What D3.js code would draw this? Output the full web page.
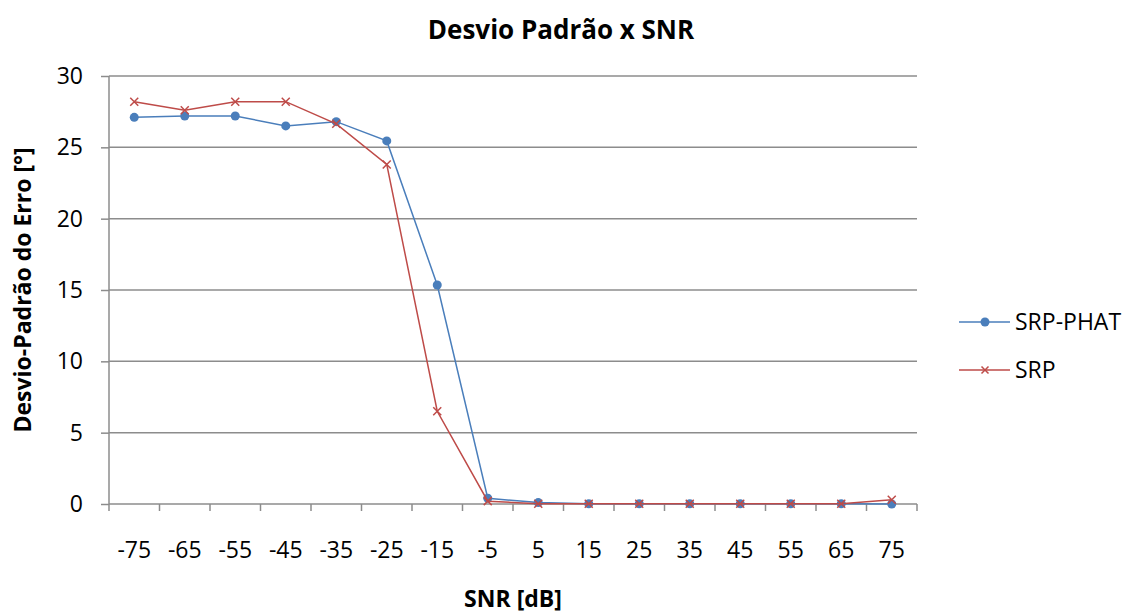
<!DOCTYPE html>
<html><head><meta charset="utf-8">
<script src="https://cdn.jsdelivr.net/npm/d3@7"></script>
<style>body{margin:0;background:#fff}</style>
</head><body>
<svg id="c" width="1129" height="614"></svg>
<script>
const categories = ["-75","-65","-55","-45","-35","-25","-15","-5","5","15","25","35","45","55","65","75"];
const srpPhat = [27.1,27.2,27.2,26.5,26.8,25.45,15.35,0.4,0.1,0.02,0.02,0.02,0.02,0.02,0.02,0.0];
const srp = [28.2,27.6,28.2,28.2,26.65,23.8,6.5,0.2,0.02,0.02,0.02,0.02,0.02,0.02,0.02,0.3];
const yTicks = [0,5,10,15,20,25,30];
const seriesNames = ["SRP-PHAT","SRP"];

const FONT = "'Open Sans', sans-serif";
const FS = 23;
const svg = d3.select("#c");
const L=109, R=917, T=76, B=504;
const x = d3.scaleBand().domain(categories).range([L,R]);
const y = d3.scaleLinear().domain([0,30]).range([B,T]);
const grid="#8c8c8c";

// gridlines
svg.append("g").selectAll("line").data(yTicks.filter(d=>d>0)).join("line")
  .attr("x1",L).attr("x2",R).attr("y1",d=>y(d)).attr("y2",d=>y(d))
  .attr("stroke",grid).attr("stroke-width",1.5);

// y axis
const ya = svg.append("g").attr("transform",`translate(${L},0)`)
  .call(d3.axisLeft(y).tickValues(yTicks).tickSize(8).tickPadding(18));
ya.select(".domain").attr("stroke",grid).attr("stroke-width",1.5).attr("d",`M-0,${T}V${B}`);
ya.selectAll(".tick line").attr("stroke",grid).attr("stroke-width",1.5);
ya.selectAll("text").attr("font-family",FONT).attr("font-size",FS).attr("fill","#000");

// x axis
const xa = svg.append("g").attr("transform",`translate(0,${B})`)
  .call(d3.axisBottom(x).tickSize(0).tickPadding(38));
xa.select(".domain").attr("stroke",grid).attr("stroke-width",1.5).attr("d",`M${L},0H${R}`);
xa.selectAll("text").attr("font-family",FONT).attr("font-size",FS).attr("fill","#000");
// tick marks at band boundaries
const bounds = categories.map(c=>x(c)).concat([R]);
svg.append("g").selectAll("line").data(bounds).join("line")
  .attr("x1",d=>d).attr("x2",d=>d).attr("y1",B).attr("y2",B+7)
  .attr("stroke",grid).attr("stroke-width",1.5);

const cx = c => x(c)+x.bandwidth()/2;
const line = d3.line().x((d,i)=>cx(categories[i])).y(d=>y(d));

const blue="#4a7ebb", red="#be4b48";
// SRP-PHAT
svg.append("path").datum(srpPhat).attr("d",line).attr("fill","none").attr("stroke",blue).attr("stroke-width",1.5);
svg.append("g").selectAll("circle").data(srpPhat).join("circle")
  .attr("cx",(d,i)=>cx(categories[i])).attr("cy",d=>y(d)).attr("r",4.5).attr("fill",blue);
// SRP
svg.append("path").datum(srp).attr("d",line).attr("fill","none").attr("stroke",red).attr("stroke-width",1.5);
const xm = (g,px,py,s)=>g.append("path").attr("d",`M${px-s},${py-s}L${px+s},${py+s}M${px-s},${py+s}L${px+s},${py-s}`)
  .attr("stroke",red).attr("stroke-width",1.5).attr("fill","none");
const gx = svg.append("g");
srp.forEach((d,i)=>xm(gx,cx(categories[i]),y(d),4));

// title
svg.append("text").attr("x",561).attr("y",39).attr("text-anchor","middle")
  .attr("font-family",FONT).attr("font-weight","bold").attr("font-size",26).text("Desvio Padrão x SNR");
// x title
svg.append("text").attr("x",513).attr("y",607).attr("text-anchor","middle")
  .attr("font-family",FONT).attr("font-weight","bold").attr("font-size",FS).text("SNR [dB]");
// y title
svg.append("text").attr("transform","translate(31,290) rotate(-90)").attr("text-anchor","middle")
  .attr("font-family",FONT).attr("font-weight","bold").attr("font-size",FS).text("Desvio-Padrão do Erro [°]");

// legend
const leg = [{n:seriesNames[0],c:blue,m:"c",y:322},{n:seriesNames[1],c:red,m:"x",y:370}];
leg.forEach(l=>{
  svg.append("line").attr("x1",959).attr("x2",1010).attr("y1",l.y).attr("y2",l.y).attr("stroke",l.c).attr("stroke-width",1.5);
  if(l.m==="c") svg.append("circle").attr("cx",985).attr("cy",l.y).attr("r",4.5).attr("fill",l.c);
  else xm(svg,985,l.y,3.5);
  svg.append("text").attr("x",1015).attr("y",l.y+8).attr("font-family",FONT).attr("font-size",FS).text(l.n);
});
</script>
</body></html>
